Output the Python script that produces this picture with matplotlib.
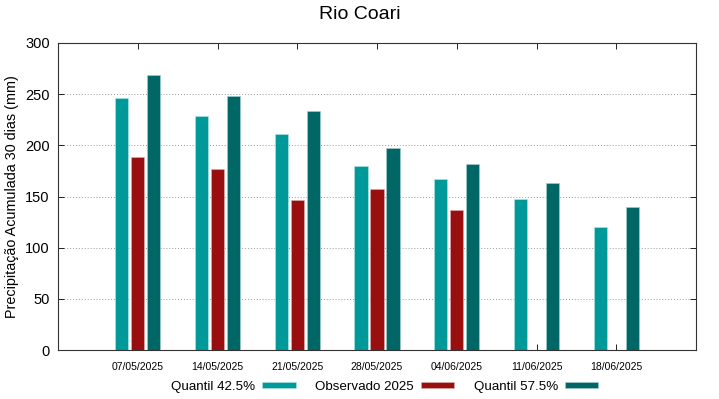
import numpy as np
from matplotlib import pyplot as plt

plt.rcParams['font.family'] = ['Liberation Sans', 'DejaVu Sans']

datas = ["07/05/2025", "14/05/2025", "21/05/2025", "28/05/2025",
         "04/06/2025", "11/06/2025", "18/06/2025"]
q425 = [246, 229, 211, 180, 167, 148, 120]
obs2025 = [189, 177, 147, 157, 137, np.nan, np.nan]
q575 = [269, 248, 234, 197, 182, 163, 140]

c_q425 = "#009999"
c_obs = "#990f0f"
c_q575 = "#006666"

fig = plt.figure(figsize=(7.19, 3.99), dpi=100)
ax = fig.add_axes([58/719, 49/399, 638/719, 307/399])

x = np.arange(len(datas))
w = 0.165
ax.bar(x - 0.2, q425, w, color=c_q425, edgecolor="#b8e6e6", linewidth=0.4, label="Quantil 42.5%", zorder=2)
ax.bar(x, obs2025, w, color=c_obs, edgecolor="#e0b0b0", linewidth=0.4, label="Observado 2025", zorder=2)
ax.bar(x + 0.2, q575, w, color=c_q575, edgecolor="#a8d0d0", linewidth=0.4, label="Quantil 57.5%", zorder=2)

ax.set_xlim(-1, 7)
ax.set_ylim(0, 300)
ax.set_yticks(range(0, 301, 50))
ax.set_xticks(x)
ax.set_xticklabels(datas, fontsize=7.5)
ax.tick_params(axis="x", direction="in", top=True, length=4, pad=9, width=0.6)
ax.tick_params(axis="y", direction="in", right=True, length=4, labelsize=10.5, width=0.6, pad=6)
ax.grid(axis="y", linestyle=(0, (1, 2)), color="#999999", linewidth=0.7, zorder=1)
for s in ax.spines.values():
    s.set_linewidth(0.8)
    s.set_color("#333333")

ax.set_ylabel("Precipitação Acumulada 30 dias (mm)", fontsize=10.4)
fig.suptitle("Rio Coari", fontsize=14, y=0.985)

ax.legend(loc="center", bbox_to_anchor=(0.512, -0.12), ncol=3, frameon=False,
          markerfirst=False, fontsize=9.6, handlelength=2.5, handleheight=0.4,
          columnspacing=1.45, handletextpad=0.53, borderpad=0)

plt.savefig("out.png", dpi=100)
